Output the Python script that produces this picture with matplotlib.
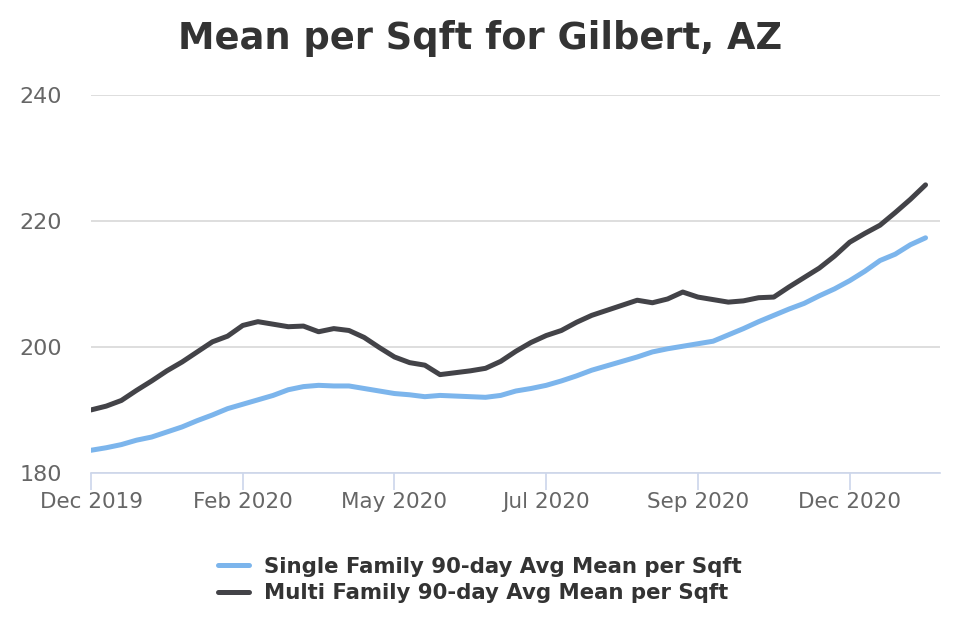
import matplotlib
matplotlib.use("Agg")

import numpy as np
import matplotlib.pyplot as plt

# weekly points, labels every 10 points
tick_labels = ['Dec 2019', 'Feb 2020', 'May 2020', 'Jul 2020', 'Sep 2020', 'Dec 2020']

single_family = [183.6, 184.0, 184.5, 185.2, 185.7, 186.5, 187.3, 188.3, 189.2, 190.2,
                 190.9, 191.6, 192.3, 193.2, 193.7, 193.9, 193.8, 193.8, 193.4, 193.0,
                 192.6, 192.4, 192.1, 192.3, 192.2, 192.1, 192.0, 192.3, 193.0, 193.4,
                 193.9, 194.6, 195.4, 196.3, 197.0, 197.7, 198.4, 199.2, 199.7, 200.1,
                 200.5, 200.9, 201.9, 202.9, 204.0, 205.0, 206.0, 206.9, 208.1, 209.2,
                 210.5, 212.0, 213.7, 214.7, 216.2, 217.3]

multi_family = [190.0, 190.6, 191.5, 193.1, 194.6, 196.2, 197.6, 199.2, 200.8, 201.7,
                203.4, 204.0, 203.6, 203.2, 203.3, 202.4, 202.9, 202.6, 201.5, 199.9,
                198.4, 197.5, 197.1, 195.6, 195.9, 196.2, 196.6, 197.7, 199.3, 200.7,
                201.8, 202.6, 203.9, 205.0, 205.8, 206.6, 207.4, 207.0, 207.6, 208.7,
                207.9, 207.5, 207.1, 207.3, 207.8, 207.9, 209.5, 211.0, 212.5, 214.4,
                216.6, 218.0, 219.3, 221.3, 223.4, 225.7]

x = np.arange(len(single_family))

fig = plt.figure(figsize=(9.6, 6.4), dpi=100)
ax = fig.add_axes([0.0948, 0.261, 0.884, 0.591])

ax.plot(x, single_family, color='#7cb5ec', lw=3.6, solid_capstyle='round',
        label='Single Family 90-day Avg Mean per Sqft', zorder=3)
ax.plot(x, multi_family, color='#434348', lw=3.6, solid_capstyle='round',
        label='Multi Family 90-day Avg Mean per Sqft', zorder=3)

ax.set_ylim(180, 240)
ax.set_yticks([180, 200, 220, 240])
ax.set_xlim(0, 55.93)
ax.set_xticks(np.arange(0, 60, 10))
ax.set_xticklabels(tick_labels)

ax.grid(axis='y', color='#d8d8d8', lw=1.2)
ax.set_axisbelow(True)
for s in ['top', 'right', 'left']:
    ax.spines[s].set_visible(False)
ax.spines['bottom'].set_color('#ccd6eb')
ax.spines['bottom'].set_linewidth(1.2)

ax.tick_params(axis='x', colors='#666666', labelsize=15.5, length=12, width=1.2,
               color='#ccd6eb', pad=2)
ax.tick_params(axis='y', colors='#666666', labelsize=16, length=0, pad=21)

fig.suptitle('Mean per Sqft for Gilbert, AZ', fontsize=26.5, fontweight='bold',
             color='#333333', y=0.968)

leg = fig.legend(loc='upper center', bbox_to_anchor=(0.5, 0.16), ncol=1, frameon=False,
                 prop={'size': 15.3, 'weight': 'bold'}, handlelength=1.45,
                 handletextpad=0.7, labelspacing=0.3)
for t in leg.get_texts():
    t.set_color('#333333')

fig.savefig('out.png', dpi=100)
